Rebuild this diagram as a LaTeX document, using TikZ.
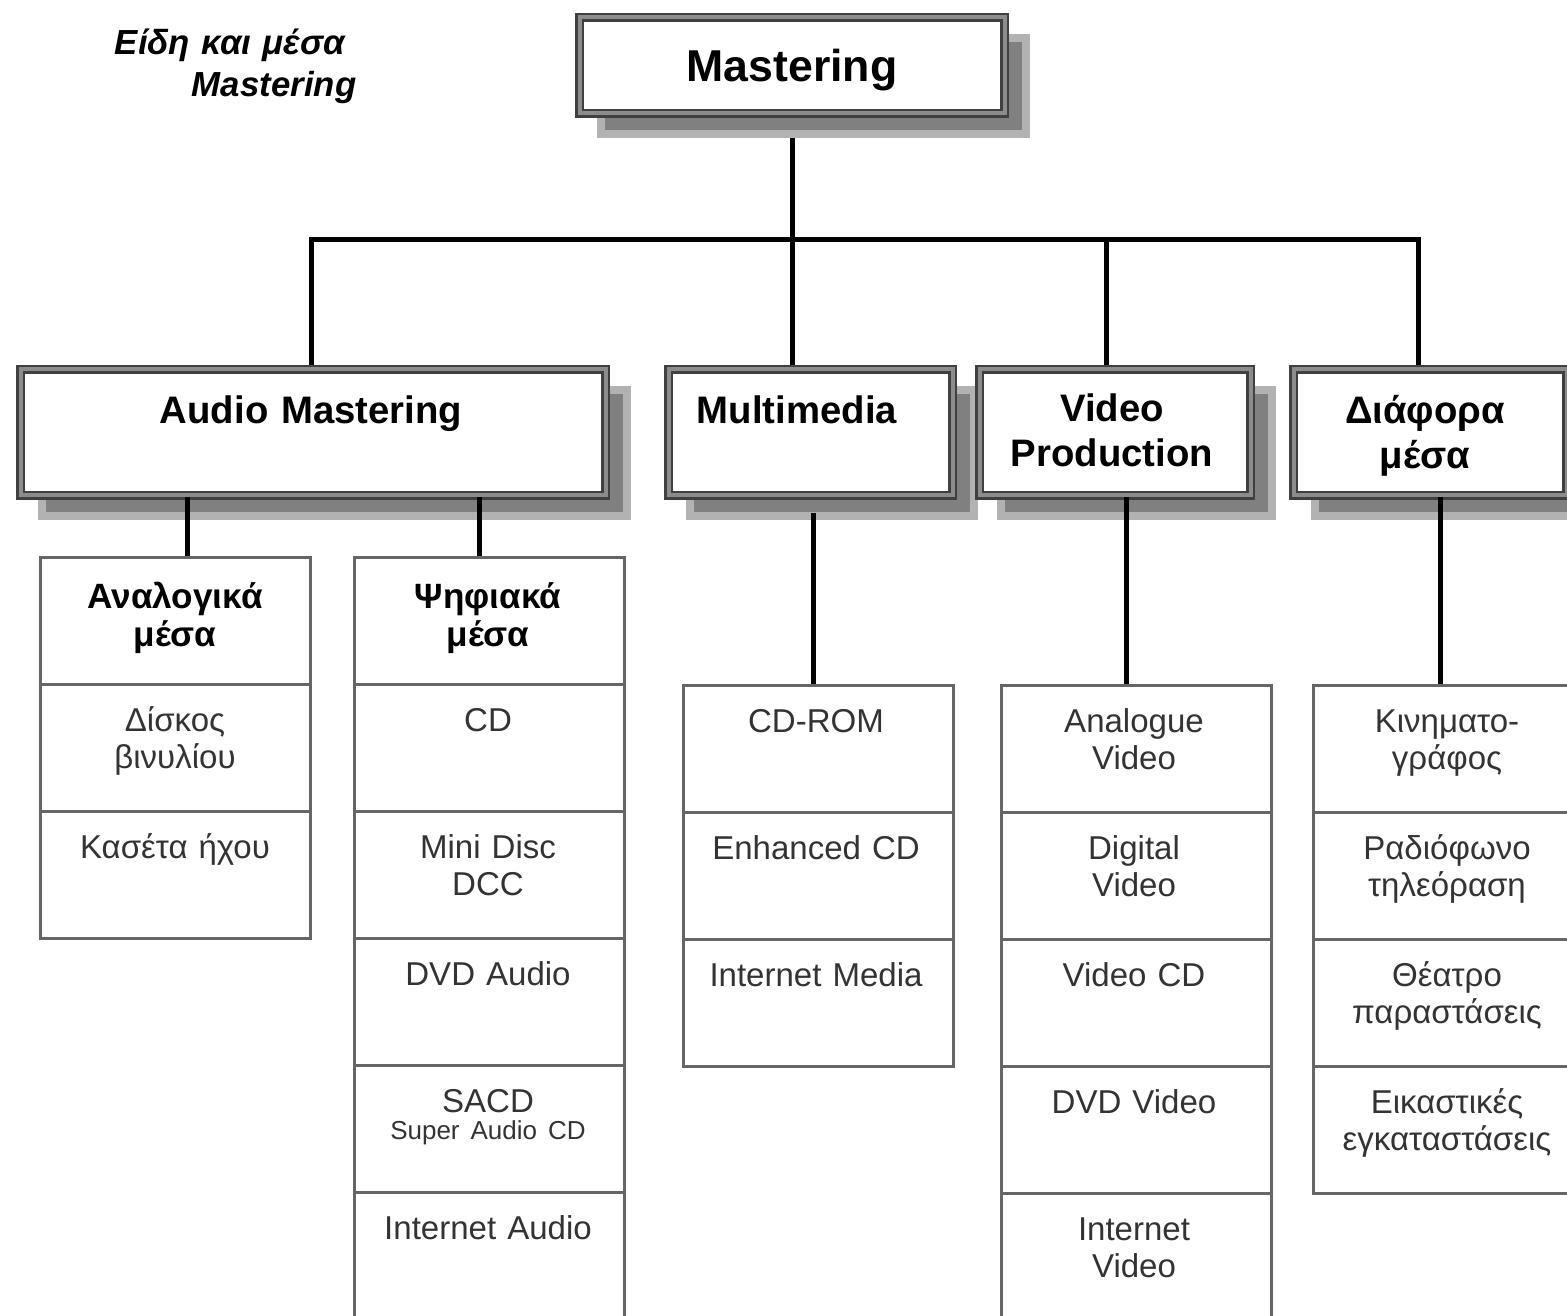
\documentclass[tikz,border=0pt]{standalone}
\usepackage{fontspec}
\setmainfont{Liberation Sans}
\usetikzlibrary{shadows}
\tikzset{
  headbox/.style={draw=black!75, line width=0.25mm, double=black!45, double distance=0.4mm,
    fill=white, inner sep=0pt,
    general shadow={fill=black!50, draw=black!30, line width=0.8mm, shadow xshift=2.1mm, shadow yshift=-2.1mm}},
  headtext/.style={anchor=base, text width=26mm, align=center, inner sep=0pt, font=\bfseries\fontsize{10.9}{12.8}\selectfont},
  cell/.style={draw=black!60, line width=0.3mm, minimum width=27mm, minimum height=12.7mm, inner sep=0pt},
  celltext/.style={anchor=base, text width=26mm, align=center, inner sep=0pt, text=black!80, font=\fontsize{9.4}{10.8}\selectfont},
  cellhead/.style={anchor=base, text width=26mm, align=center, inner sep=0pt, font=\bfseries\fontsize{10}{11}\selectfont},
  wire/.style={line width=0.5mm, black},
}
\begin{document}
\begin{tikzpicture}[x=0.1mm,y=-0.1mm]
\useasboundingbox (0,0) rectangle (1567,1316);
\clip (0,0) rectangle (1567,1316);
% title
\node[text width=25mm, align=right, anchor=base east, inner sep=0pt, font=\bfseries\itshape\fontsize{9.9}{11.9}\selectfont] (title) at (357,55) {Είδη και μέσα\kern1.1mm\\Mastering};
% bus
\coordinate (j1) at (311,240);
\coordinate (j2) at (792,240);
\coordinate (j3) at (1106,240);
\coordinate (j4) at (1418,240);
\draw[wire] (792,65 |- j2) -- (792,40);
\draw[wire] (j1 |- 0,400) -- (j1) -- (j4) -- (j4 |- 0,400);
\draw[wire] (j2) -- (j2 |- 0,400);
\draw[wire] (j3) -- (j3 |- 0,400);
% boxes
\node[headbox, minimum width=42.5mm, minimum height=9.6mm, text depth=0pt, font=\bfseries\fontsize{12.7}{15}\selectfont] (mast) at (792,65.5) {Mastering};
\node[headbox, minimum width=58.5mm, minimum height=12.6mm] (am) at (313,432.5) {};
\node[headbox, minimum width=28.4mm, minimum height=12.6mm] (mm) at (810.5,432.5) {};
\node[headbox, minimum width=27.1mm, minimum height=12.6mm] (vp) at (1115,432.5) {};
\node[headbox, minimum width=27.3mm, minimum height=12.6mm] (dm) at (1430,432.5) {};
\node[headtext, text width=50mm] (amt) at (311,424) {Audio Mastering};
\node[headtext] (mmt) at (797,424) {Multimedia};
\node[headtext] (vpt) at (1112,422) {Video\\Production};
\node[headtext] (dmt) at (1425,424) {Διάφορα\\μέσα};
% Αναλογικά μέσα
\node[cell] (an0) at (175.5,620.5) {};
\node[cellhead] (ant0) at (175,608) {Αναλογικά\\μέσα};
\foreach \t [count=\i] in {{Δίσκος\\βινυλίου},{Κασέτα ήχου}}{
  \node[cell] (an\i) at (175.5,{620.5+127*\i}) {};
  \node[celltext] (ant\i) at (175,{604+127*\i}) {\t};
}
% Ψηφιακά μέσα
\node[cell] (ps0) at (489,620.5) {};
\node[cellhead] (pst0) at (488,608) {Ψηφιακά\\μέσα};
\foreach \t [count=\i] in {{CD},{Mini Disc\\DCC},{DVD Audio},{SACD\\[-1mm]{\fontsize{7.4}{8}\selectfont Super Audio CD}},{Internet Audio}}{
  \node[cell] (ps\i) at (489,{620.5+127*\i}) {};
  \node[celltext] (pst\i) at (488,{604+127*\i}) {\t};
}
% Multimedia
\foreach \t [count=\i from 0] in {{CD-ROM},{Enhanced CD},{Internet Media}}{
  \node[cell] (mu\i) at (818,{748.5+127*\i}) {};
  \node[celltext] (mut\i) at (816,{732+127*\i}) {\t};
}
% Video
\foreach \t [count=\i from 0] in {{Analogue\\Video},{Digital\\Video},{Video CD},{DVD Video},{Internet\\Video}}{
  \node[cell] (vi\i) at (1136,{748.5+127*\i}) {};
  \node[celltext] (vit\i) at (1134,{732+127*\i}) {\t};
}
% Διάφορα
\foreach \t [count=\i from 0] in {{Κινηματο-\\γράφος},{Ραδιόφωνο\\τηλεόραση},{Θέατρο\\παραστάσεις},{Εικαστικές\\εγκαταστάσεις}}{
  \node[cell] (di\i) at (1448,{748.5+127*\i}) {};
  \node[celltext] (dit\i) at (1447,{732+127*\i}) {\t};
}
% drops
\coordinate (mmd) at (813,513);
\draw[wire] (187,0 |- am.south) -- (187,0 |- an0.north);
\draw[wire] (479,0 |- am.south) -- (479,0 |- ps0.north);
\draw[wire] (mmd) -- (mmd |- mu0.north);
\draw[wire] (1126,0 |- vp.south) -- (1126,0 |- vi0.north);
\draw[wire] (1440,0 |- dm.south) -- (1440,0 |- di0.north);
\end{tikzpicture}
\end{document}
